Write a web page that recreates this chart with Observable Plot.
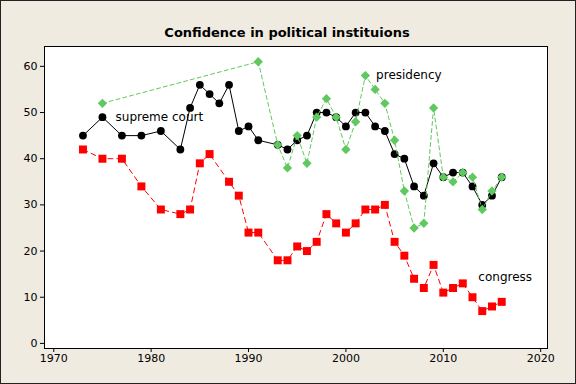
<!DOCTYPE html>
<html><head><meta charset="utf-8">
<script src="https://cdn.jsdelivr.net/npm/d3@7"></script>
<script src="https://cdn.jsdelivr.net/npm/@observablehq/plot@0.6"></script>
<style>body{margin:0;background:#fff}</style>
</head><body><div id="chart"></div>
<script>
const title = "Confidence in political instituions";

const scYears = [1973,1975,1977,1979,1981,1983,1984,1985,1986,1987,1988,1989,1990,1991,1993,1994,1995,1996,1997,1998,1999,2000,2001,2002,2003,2004,2005,2006,2007,2008,2009,2010,2011,2012,2013,2014,2015,2016];
const scValues = [45,49,45,45,46,42,51,56,54,52,56,46,47,44,43,42,44,45,50,50,49,47,50,50,47,46,41,40,34,32,39,36,37,37,34,30,32,36];

const presYears = [1975,1991,1993,1994,1995,1996,1997,1998,1999,2000,2001,2002,2003,2004,2005,2006,2007,2008,2009,2010,2011,2012,2013,2014,2015,2016];
const presValues = [52,61,43,38,45,39,49,53,49,42,48,58,55,52,44,33,25,26,51,36,35,37,36,29,33,36];

const congYears = [1973,1975,1977,1979,1981,1983,1984,1985,1986,1988,1989,1990,1991,1993,1994,1995,1996,1997,1998,1999,2000,2001,2002,2003,2004,2005,2006,2007,2008,2009,2010,2011,2012,2013,2014,2015,2016];
const congValues = [42,40,40,34,29,28,29,39,41,35,32,24,24,18,18,21,20,22,28,26,24,26,29,29,30,22,19,14,12,17,11,12,13,10,7,8,9];

const xTicks = [1970,1980,1990,2000,2010,2020];
const yTicks = [0,10,20,30,40,50,60];

const labelNames = ["supreme court","presidency","congress"];
const labelYears = [1976.35,2003.1,2013.6];
const labelValues = [49.1,58.2,14.35];

const toRows = (ys, vs) => ys.map((y, i) => ({year: y, value: vs[i]}));
const sc = toRows(scYears, scValues);
const pres = toRows(presYears, presValues);
const cong = toRows(congYears, congValues);
const labels = labelNames.map((n, i) => ({name: n, year: labelYears[i], value: labelValues[i]}));

const green = "#5FC95F";

const chart = Plot.plot({
  width: 576,
  height: 384,
  marginLeft: 44,
  marginRight: 29,
  marginTop: 46,
  marginBottom: 36,
  style: {background: "#EFEBE1", fontFamily: "DejaVu Sans", fontSize: "11px", color: "black"},
  x: {domain: [1969.05, 2020.7]},
  y: {domain: [-1.1, 64.3]},
  marks: [
    Plot.frame({fill: "white"}),
    Plot.axisX({ticks: xTicks, tickFormat: "d", tickSize: 4, tickPadding: 2, label: null}),
    Plot.axisY({ticks: yTicks, tickSize: 4, tickPadding: 3, label: null}),
    Plot.line(cong, {x: "year", y: "value", stroke: "red", strokeWidth: 1, strokeDasharray: "5,4"}),
    Plot.dot(cong, {x: "year", y: "value", symbol: "square", r: 4.5, fill: "red"}),
    Plot.line(sc, {x: "year", y: "value", stroke: "black", strokeWidth: 1}),
    Plot.dot(sc, {x: "year", y: "value", symbol: "circle", r: 3.9, fill: "black"}),
    Plot.line(pres, {x: "year", y: "value", stroke: green, strokeWidth: 1, strokeDasharray: "4,3"}),
    Plot.dot(pres, {x: "year", y: "value", symbol: "diamond2", r: 4.2, fill: green}),
    Plot.text(labels, {x: "year", y: "value", text: "name", textAnchor: "start", fontSize: 12, fill: "black"}),
    Plot.text([title], {frameAnchor: "top", dy: -19, dx: -9, fontWeight: "bold", fontSize: 13, fill: "black"}),
    Plot.frame({stroke: "black"})
  ]
});
d3.select(chart).append("rect")
  .attr("x", 0.5).attr("y", 0.5).attr("width", 575).attr("height", 383)
  .attr("fill", "none").attr("stroke", "#222");
document.getElementById("chart").append(chart);
</script>
</body></html>
